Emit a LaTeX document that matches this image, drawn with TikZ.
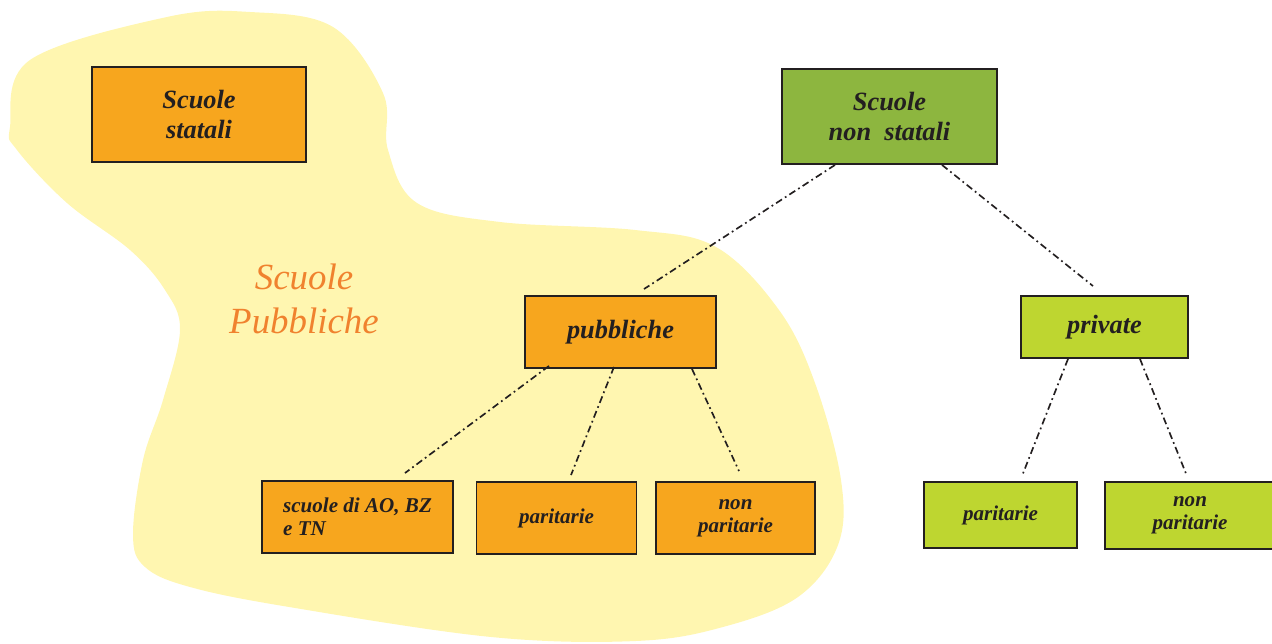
\documentclass[tikz,border=0pt]{standalone}
\usepackage{fontspec}
\setmainfont{Liberation Serif}
\usetikzlibrary{calc}

\definecolor{boxorange}{RGB}{247,166,30}
\definecolor{boxgreen}{RGB}{141,182,63}
\definecolor{boxlime}{RGB}{190,214,48}
\definecolor{blobyellow}{RGB}{255,246,176}
\definecolor{titleorange}{RGB}{240,130,46}
\definecolor{inkgray}{RGB}{35,31,32}

\begin{document}
\begin{tikzpicture}[x=0.02cm,y=-0.02cm,
    box/.style={draw=inkgray,line width=1.1pt,text=inkgray,inner sep=0pt,align=center,font=\bfseries\itshape\fontsize{12}{13}\selectfont},
    bigbox/.style={box,font=\bfseries\itshape\fontsize{15}{17}\selectfont},
    link/.style={draw=inkgray,line width=0.95pt,dash pattern=on 4pt off 2pt on 1pt off 2pt}]
        \useasboundingbox (0,0) rectangle (1272,644);

        % Public area
        \fill[blobyellow] plot[smooth cycle,tension=0.6] coordinates {(10,127) (30,60) (167,17) (250,12) (333,27) (383,93) (388,150) (417,203) (500,222) (635,230) (716,247) (779,310) (815,383) (841,480) (838,545) (798,597) (723,627) (636,641) (491,637) (289,607) (190,587) (145,567) (133,535) (143,460) (163,400) (180,330) (165,290) (130,250) (67,203) (17,150)};
        \node[text=titleorange,align=center,font=\itshape\fontsize{21}{25.5}\selectfont] (pubtitle) at (304,299) {Scuole\\Pubbliche};

        % Top level
        \node[bigbox,fill=boxorange,minimum width=4.28cm,minimum height=1.9cm] (stat) at (199,114.5) {Scuole\\statali};
        \node[bigbox,fill=boxgreen,minimum width=4.3cm,minimum height=1.9cm] (nstat) at (889.5,116.5) {Scuole\\non\ \ statali};

        % Second level
        \node[bigbox,fill=boxorange,minimum width=3.82cm,minimum height=1.44cm] (pub) at (620.5,332) {pubbliche};
        \node[bigbox,fill=boxlime,minimum width=3.34cm,minimum height=1.24cm] (priv) at (1104.5,327) {private};

        % Third level
        \node[box,fill=boxorange,align=left,minimum width=3.82cm,minimum height=1.44cm] (aobz) at (357.5,517) {scuole di AO, BZ\\e TN};
        \node[box,fill=boxorange,minimum width=3.2cm,minimum height=1.44cm] (par1) at (556.5,518) {paritarie};
        \node[box,fill=boxorange,minimum width=3.18cm,minimum height=1.44cm] (npar1) at (735.5,518) {non\\paritarie};
        \node[box,fill=boxlime,minimum width=3.06cm,minimum height=1.32cm] (par2) at (1000.5,515) {paritarie};
        \node[box,fill=boxlime,minimum width=3.4cm,minimum height=1.34cm] (npar2) at (1190,515.5) {non\\paritarie};

        % Links
        \draw[link] ([xshift=-1.09cm]nstat.south) -- ([xshift=0.47cm,yshift=0.12cm]pub.north);
        \draw[link] ([xshift=1.05cm]nstat.south) -- ([xshift=-0.23cm,yshift=0.18cm]priv.north);
        \draw[link] ([xshift=-1.43cm,yshift=0.06cm]pub.south) -- ([xshift=0.95cm,yshift=0.14cm]aobz.north);
        \draw[link] ([xshift=-0.13cm,yshift=0.04cm]pub.south) -- ([xshift=0.29cm,yshift=0.12cm]par1.north);
        \draw[link] ([xshift=1.43cm]pub.south) -- ([xshift=0.07cm,yshift=0.2cm]npar1.north);
        \draw[link] ([xshift=-0.73cm]priv.south) -- ([xshift=0.43cm,yshift=0.1cm]par2.north);
        \draw[link] ([xshift=0.71cm]priv.south) -- ([xshift=-0.06cm,yshift=0.1cm]npar2.north);

      \end{tikzpicture}
\end{document}
